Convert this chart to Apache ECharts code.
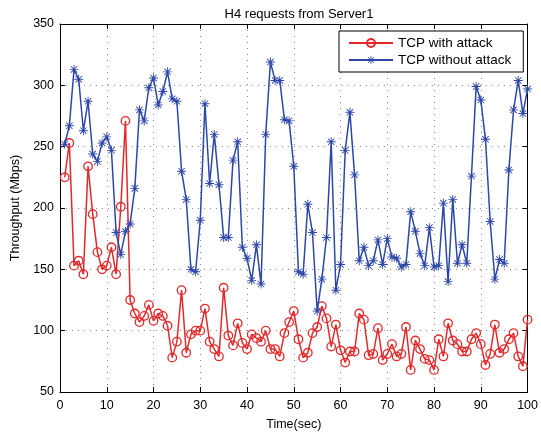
<!DOCTYPE html>
<html>
<head>
<meta charset="utf-8">
<script src="https://cdn.jsdelivr.net/npm/echarts@6/dist/echarts.min.js"></script>
<style>
html,body{margin:0;padding:0;background:#fff;}
#chart{width:541px;height:436px;}
</style>
</head>
<body>
<div id="chart"></div>
<script>
var titleText = 'H4 requests from Server1';
var seriesNames = ['TCP with attack', 'TCP without attack'];
var timeSec = [1,2,3,4,5,6,7,8,9,10,11,12,13,14,15,16,17,18,19,20,
  21,22,23,24,25,26,27,28,29,30,31,32,33,34,35,36,37,38,39,40,
  41,42,43,44,45,46,47,48,49,50,51,52,53,54,55,56,57,58,59,60,
  61,62,63,64,65,66,67,68,69,70,71,72,73,74,75,76,77,78,79,80,
  81,82,83,84,85,86,87,88,89,90,91,92,93,94,95,96,97,98,99,100];
var withAttack = [225,253,153,157,146,234,195,164,150,153,
  168,146,201,271,125,114,107,112,121,108,
  114,112,104,78,91,133,82,97,100,100,
  118,91,85,79,135,96,88,106,90,85,
  97,94,91,100,85,85,79,98,107,116,
  93,78,82,98,103,120,110,87,105,84,
  74,83,83,114,109,80,81,102,76,81,
  89,79,81,103,68,92,85,77,76,68,
  93,79,106,92,89,83,83,93,98,89,
  72,81,105,82,85,93,98,79,71,109];
var withoutAttack = [252,267,313,305,263,287,244,238,253,258,
  247,180,162,181,187,216,280,271,298,306,
  284,295,311,289,287,230,207,150,148,190,
  285,220,260,219,176,176,239,254,168,159,
  141,170,138,260,319,304,304,272,271,234,
  148,146,203,180,116,142,176,254,133,154,
  247,278,227,157,168,153,157,174,154,175,
  160,159,152,154,197,181,163,153,184,152,
  153,204,140,207,155,170,155,226,299,288,
  256,189,142,158,155,231,280,304,277,297];
var xTicks = [0,10,20,30,40,50,60,70,80,90,100];
var yTicks = [50,100,150,200,250,300,350];

function pairs(xs, ys){ return xs.map(function(x,i){ return [x, ys[i]]; }); }

var starPath = 'path://M9 0H11V9H20V11H11V20H9V11H0V9H9Z' +
  'M2.2 3.6L3.6 2.2L17.8 16.4L16.4 17.8Z' +
  'M16.4 2.2L17.8 3.6L3.6 17.8L2.2 16.4Z';

var RED = '#e3282a';
var BLUE = '#2d47a8';
var FONT = 'Liberation Sans, Arial, sans-serif';

var chart = echarts.init(document.getElementById('chart'), null, {renderer:'canvas'});
var gridLine = {show:true, lineStyle:{color:'#8a8a8a', width:1, type:[1,5]}};
var option = {
  backgroundColor:'#fff',
  animation:false,
  title:{text:titleText, left:294, top:3, textAlign:'center',
    textStyle:{fontFamily:FONT, fontSize:13, fontWeight:'normal', color:'#000'}},
  legend:{
    left:339, top:31, orient:'vertical',
    itemWidth:44, itemHeight:10, itemGap:3,
    padding:[5,12,5,9],
    backgroundColor:'#fff', borderColor:'#000', borderWidth:1,
    textStyle:{fontFamily:FONT, fontSize:13.5, color:'#000'},
    data:seriesNames
  },
  grid:{left:60, right:12, top:24, bottom:42, show:false},
  xAxis:[{
    type:'value', min:0, max:100, interval:10,
    name:'Time(sec)', nameLocation:'middle', nameGap:26,
    nameTextStyle:{fontFamily:FONT, fontSize:12.5, color:'#000'},
    axisLine:{show:true, onZero:false, lineStyle:{color:'#000', width:1}},
    axisTick:{show:true, inside:true, length:5, lineStyle:{color:'#000'}},
    axisLabel:{fontFamily:FONT, fontSize:12.5, color:'#000', margin:7,
      formatter:function(v){ return xTicks.indexOf(v)>=0 ? String(v) : ''; }},
    splitLine:gridLine
  },{
    type:'value', min:0, max:100, interval:10, position:'top',
    axisLine:{show:true, onZero:false, lineStyle:{color:'#000', width:1}},
    axisTick:{show:true, inside:true, length:5, lineStyle:{color:'#000'}},
    axisLabel:{show:false}, splitLine:{show:false}
  }],
  yAxis:[{
    type:'value', min:50, max:350, interval:50,
    name:'Throughput (Mbps)', nameLocation:'middle', nameGap:37,
    nameTextStyle:{fontFamily:FONT, fontSize:12.5, color:'#000'},
    axisLine:{show:true, onZero:false, lineStyle:{color:'#000', width:1}},
    axisTick:{show:true, inside:true, length:5, lineStyle:{color:'#000'}},
    axisLabel:{fontFamily:FONT, fontSize:12.5, color:'#000', margin:6,
      formatter:function(v){ return yTicks.indexOf(v)>=0 ? String(v) : ''; }},
    splitLine:gridLine
  },{
    type:'value', min:50, max:350, interval:50, position:'right',
    axisLine:{show:true, onZero:false, lineStyle:{color:'#000', width:1}},
    axisTick:{show:true, inside:true, length:5, lineStyle:{color:'#000'}},
    axisLabel:{show:false}, splitLine:{show:false}
  }],
  series:[{
    name:seriesNames[0], type:'line', data:pairs(timeSec, withAttack),
    symbol:'circle', symbolSize:8.5, showAllSymbol:true,
    lineStyle:{color:RED, width:1.5},
    itemStyle:{color:'rgba(255,255,255,0)', borderColor:RED, borderWidth:1.3},
    emphasis:{disabled:true}, z:2
  },{
    name:seriesNames[1], type:'line', data:pairs(timeSec, withoutAttack),
    symbol:starPath, symbolSize:9, showAllSymbol:true,
    lineStyle:{color:BLUE, width:1.5},
    itemStyle:{color:BLUE, borderWidth:0},
    emphasis:{disabled:true}, z:3
  }]
};
chart.setOption(option);
</script>
</body>
</html>
